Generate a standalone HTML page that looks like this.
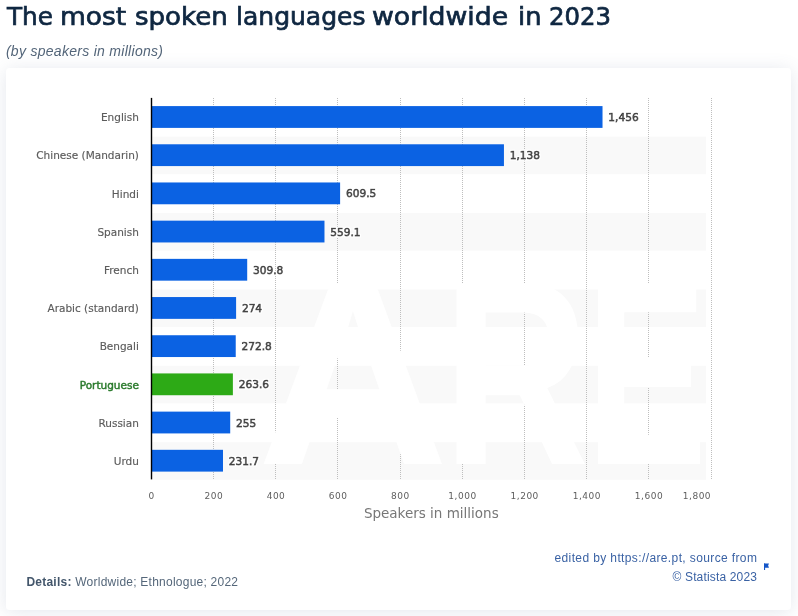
<!DOCTYPE html>
<html lang="en"><head><meta charset="utf-8"><title>The most spoken languages worldwide in 2023</title>
<style>
html,body{margin:0;padding:0}
body{width:798px;height:616px;overflow:hidden;background:#fff;position:relative;font-family:"Liberation Sans",sans-serif}
h1{position:absolute;left:0;top:1px;width:798px;height:32px;margin:0;font:normal 24.5px/32px "DejaVu Sans","Liberation Sans",sans-serif;-webkit-text-stroke:.7px #0f2741;color:#0f2741;white-space:nowrap}
h1 span{position:absolute;top:0;display:inline-block;transform-origin:0 0}
.sub{position:absolute;left:5.9px;top:41.8px;font:italic 14px/18px "Liberation Sans",sans-serif;color:#536579;white-space:nowrap;letter-spacing:.29px}
.card{position:absolute;left:6px;top:68px;width:785px;height:542px;background:#fff;border-radius:3.5px;box-shadow:0 2px 18px rgba(90,105,140,.16)}
svg{position:absolute;left:0;top:0}
.det{position:absolute;left:26.4px;top:573px;font:12px/18px "Liberation Sans",sans-serif;color:#55677a;white-space:nowrap;letter-spacing:.24px}
.det b{color:#43566b}
.src{position:absolute;right:40.7px;top:549.2px;font:12px/18.8px "Liberation Sans",sans-serif;color:#3a62a4;text-align:right;white-space:nowrap;letter-spacing:.38px}
.src i{font-style:normal;letter-spacing:.16px;margin-right:.22px}
#w{position:absolute;left:0;top:0;width:798px;height:616px;will-change:transform}
</style></head><body><div id="w">

<h1><span style="left:6.54px;transform:translateY(.3px) scaleX(1.010)">The</span> <span style="left:60.15px;transform:translateY(.3px) scaleX(1.082)">most</span> <span style="left:134.57px;transform:translateY(.3px) scaleX(1.063)">spoken</span> <span style="left:235.89px;transform:translateY(.3px) scaleX(1.021)">languages</span> <span style="left:372.40px;transform:translateY(.3px) scaleX(1.090)">worldwide</span> <span style="left:517.74px;transform:translateY(.3px) scaleX(1.049)">in</span> <span style="left:548.61px;transform:translateY(.3px) scaleX(0.994)">2023</span></h1>
<div class="sub">(by speakers in millions)</div>
<div class="card"></div>
<svg width="798" height="616" viewBox="0 0 798 616" font-family="'DejaVu Sans','Liberation Sans',sans-serif">

<defs><filter id="halo" x="-15%" y="-40%" width="130%" height="180%"><feMorphology in="SourceAlpha" operator="dilate" radius="1.1" result="d"/><feGaussianBlur in="d" stdDeviation=".35" result="b"/><feFlood flood-color="#fff"/><feComposite in2="b" operator="in" result="o"/><feMerge><feMergeNode in="o"/><feMergeNode in="SourceGraphic"/></feMerge></filter></defs>
<rect x="151.4" y="136.69" width="554.6" height="37.59" fill="#f9f9f9"/>
<rect x="151.4" y="213.07" width="554.6" height="37.59" fill="#f9f9f9"/>
<rect x="151.4" y="289.45" width="554.6" height="37.59" fill="#f9f9f9"/>
<rect x="151.4" y="365.83" width="554.6" height="37.59" fill="#f9f9f9"/>
<rect x="151.4" y="442.21" width="554.6" height="37.59" fill="#f9f9f9"/>
<line x1="213.5" y1="98" x2="213.5" y2="480" stroke="#bebebe" stroke-width="1" stroke-dasharray="1 1"/>
<line x1="275.5" y1="98" x2="275.5" y2="480" stroke="#bebebe" stroke-width="1" stroke-dasharray="1 1"/>
<line x1="337.5" y1="98" x2="337.5" y2="480" stroke="#bebebe" stroke-width="1" stroke-dasharray="1 1"/>
<line x1="400.5" y1="98" x2="400.5" y2="480" stroke="#bebebe" stroke-width="1" stroke-dasharray="1 1"/>
<line x1="462.5" y1="98" x2="462.5" y2="480" stroke="#bebebe" stroke-width="1" stroke-dasharray="1 1"/>
<line x1="524.5" y1="98" x2="524.5" y2="480" stroke="#bebebe" stroke-width="1" stroke-dasharray="1 1"/>
<line x1="586.5" y1="98" x2="586.5" y2="480" stroke="#bebebe" stroke-width="1" stroke-dasharray="1 1"/>
<line x1="648.5" y1="98" x2="648.5" y2="480" stroke="#bebebe" stroke-width="1" stroke-dasharray="1 1"/>
<line x1="711.5" y1="98" x2="711.5" y2="480" stroke="#bebebe" stroke-width="1" stroke-dasharray="1 1"/>
<text y="464" font-family="'Liberation Sans',sans-serif" font-weight="bold" font-size="263" fill="#fff"><tspan x="257" textLength="192" lengthAdjust="spacingAndGlyphs">A</tspan><tspan x="443" textLength="146" lengthAdjust="spacingAndGlyphs">R</tspan><tspan x="586" textLength="121" lengthAdjust="spacingAndGlyphs">E</tspan></text>
<rect x="151.4" y="106.09" width="451.12" height="21.8" fill="#0b62e3"/>
<text x="138.9" y="121.20" text-anchor="end" font-size="10.5" fill="#5c5c5c" stroke="#5c5c5c" stroke-width=".15">English</text>
<text x="608.32" y="121.00" font-size="10.6" fill="#444" stroke="#444" stroke-width=".75" filter="url(#halo)">1,456</text>
<rect x="151.4" y="144.28" width="352.54" height="21.8" fill="#0b62e3"/>
<text x="138.9" y="159.38" text-anchor="end" font-size="10.5" fill="#5c5c5c" stroke="#5c5c5c" stroke-width=".15">Chinese (Mandarin)</text>
<text x="509.74" y="159.19" font-size="10.6" fill="#444" stroke="#444" stroke-width=".75" filter="url(#halo)">1,138</text>
<rect x="151.4" y="182.47" width="188.71" height="21.8" fill="#0b62e3"/>
<text x="138.9" y="197.57" text-anchor="end" font-size="10.5" fill="#5c5c5c" stroke="#5c5c5c" stroke-width=".15">Hindi</text>
<text x="345.91" y="197.38" font-size="10.6" fill="#444" stroke="#444" stroke-width=".75" filter="url(#halo)">609.5</text>
<rect x="151.4" y="220.66" width="173.08" height="21.8" fill="#0b62e3"/>
<text x="138.9" y="235.76" text-anchor="end" font-size="10.5" fill="#5c5c5c" stroke="#5c5c5c" stroke-width=".15">Spanish</text>
<text x="330.28" y="235.56" font-size="10.6" fill="#444" stroke="#444" stroke-width=".75" filter="url(#halo)">559.1</text>
<rect x="151.4" y="258.86" width="95.80" height="21.8" fill="#0b62e3"/>
<text x="138.9" y="273.95" text-anchor="end" font-size="10.5" fill="#5c5c5c" stroke="#5c5c5c" stroke-width=".15">French</text>
<text x="253.00" y="273.75" font-size="10.6" fill="#444" stroke="#444" stroke-width=".75" filter="url(#halo)">309.8</text>
<rect x="151.4" y="297.05" width="84.70" height="21.8" fill="#0b62e3"/>
<text x="138.9" y="312.15" text-anchor="end" font-size="10.5" fill="#5c5c5c" stroke="#5c5c5c" stroke-width=".15">Arabic (standard)</text>
<text x="241.90" y="311.95" font-size="10.6" fill="#444" stroke="#444" stroke-width=".75" filter="url(#halo)">274</text>
<rect x="151.4" y="335.24" width="84.33" height="21.8" fill="#0b62e3"/>
<text x="138.9" y="350.33" text-anchor="end" font-size="10.5" fill="#5c5c5c" stroke="#5c5c5c" stroke-width=".15">Bengali</text>
<text x="241.53" y="350.13" font-size="10.6" fill="#444" stroke="#444" stroke-width=".75" filter="url(#halo)">272.8</text>
<rect x="151.4" y="373.43" width="81.48" height="21.8" fill="#2daa16"/>
<text x="138.9" y="388.83" text-anchor="end" font-size="10.5" fill="#2a7a2c" stroke="#2a7a2c" stroke-width=".45">Portuguese</text>
<text x="238.68" y="388.33" font-size="10.6" fill="#444" stroke="#444" stroke-width=".75" filter="url(#halo)">263.6</text>
<rect x="151.4" y="411.62" width="78.81" height="21.8" fill="#0b62e3"/>
<text x="138.9" y="426.71" text-anchor="end" font-size="10.5" fill="#5c5c5c" stroke="#5c5c5c" stroke-width=".15">Russian</text>
<text x="236.01" y="426.51" font-size="10.6" fill="#444" stroke="#444" stroke-width=".75" filter="url(#halo)">255</text>
<rect x="151.4" y="449.81" width="71.59" height="21.8" fill="#0b62e3"/>
<text x="138.9" y="464.91" text-anchor="end" font-size="10.5" fill="#5c5c5c" stroke="#5c5c5c" stroke-width=".15">Urdu</text>
<text x="228.79" y="464.71" font-size="10.6" fill="#444" stroke="#444" stroke-width=".75" filter="url(#halo)">231.7</text>
<rect x="150.8" y="97.9" width="1.4" height="381.5" fill="#000"/>
<text x="151.6" y="498.9" text-anchor="middle" font-size="9" letter-spacing=".5" fill="#5e5e5e">0</text>
<text x="213.8" y="498.9" text-anchor="middle" font-size="9" letter-spacing=".5" fill="#5e5e5e">200</text>
<text x="276.0" y="498.9" text-anchor="middle" font-size="9" letter-spacing=".5" fill="#5e5e5e">400</text>
<text x="338.1" y="498.9" text-anchor="middle" font-size="9" letter-spacing=".5" fill="#5e5e5e">600</text>
<text x="400.3" y="498.9" text-anchor="middle" font-size="9" letter-spacing=".5" fill="#5e5e5e">800</text>
<text x="462.5" y="498.9" text-anchor="middle" font-size="9" letter-spacing=".5" fill="#5e5e5e">1,000</text>
<text x="524.7" y="498.9" text-anchor="middle" font-size="9" letter-spacing=".5" fill="#5e5e5e">1,200</text>
<text x="586.9" y="498.9" text-anchor="middle" font-size="9" letter-spacing=".5" fill="#5e5e5e">1,400</text>
<text x="649.0" y="498.9" text-anchor="middle" font-size="9" letter-spacing=".5" fill="#5e5e5e">1,600</text>
<text x="711.1" y="498.9" text-anchor="end" font-size="9" letter-spacing=".5" fill="#5e5e5e">1,800</text>
<text x="431.3" y="517.6" text-anchor="middle" font-size="13.5" fill="#777">Speakers in millions</text>
<path d="M764 563.3h1.1v6.7h-1.1zM765 563.4h4l-.9 2.2.9 2.2h-4z" fill="#1556c8"/>
</svg>
<div class="det"><b>Details:</b> Worldwide; Ethnologue; 2022</div>
<div class="src">edited by https://are.pt, source from<br><i>© Statista 2023</i></div>
</div></body></html>
